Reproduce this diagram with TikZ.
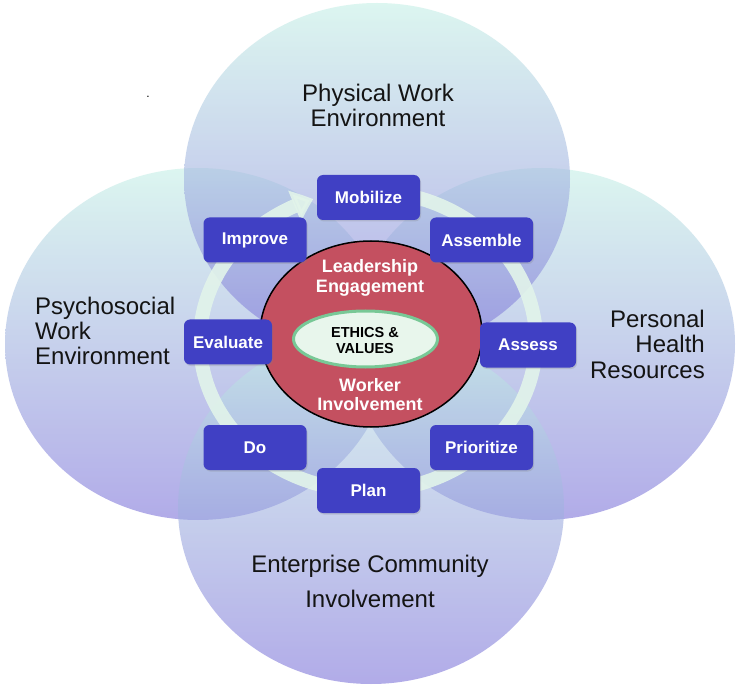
\documentclass[tikz,border=0pt]{standalone}
\usepackage{fontspec}
\setmainfont{Liberation Sans}
\usetikzlibrary{arrows.meta,bending,shadows,shapes.geometric}

\definecolor{circtop}{RGB}{197,240,230}
\definecolor{circmid}{RGB}{156,190,228}
\definecolor{circbot}{RGB}{126,116,218}
\definecolor{boxblue}{RGB}{64,64,196}
\definecolor{redcore}{RGB}{196,80,96}
\definecolor{ringc}{RGB}{226,244,234}
\definecolor{ethicsfill}{RGB}{232,246,236}
\definecolor{ethicsline}{RGB}{120,200,150}
\definecolor{labeltext}{RGB}{20,20,20}

\begin{document}
\begin{tikzpicture}[x=1pt,y=-1pt,
  bigcirc/.style={fill opacity=0.6, top color=circtop, middle color=circmid, bottom color=circbot},
  stepbox/.style={fill=boxblue, rounded corners=6pt, minimum height=45pt, minimum width=103pt,
    inner sep=0pt, text=white, font=\bfseries\fontsize{17}{20}\selectfont,
    drop shadow={opacity=0.25, shadow xshift=1pt, shadow yshift=-1.5pt}},
  outerlabel/.style={text=labeltext, font=\fontsize{24}{25.5}\selectfont, inner sep=0pt},
  corelabel/.style={text=white, font=\bfseries\fontsize{18}{20}\selectfont, inner sep=0pt, align=center}
]
\useasboundingbox (0,0) rectangle (737,687);
\fill[white] (0,0) rectangle (737,687);

% four overlapping domains
\shade[bigcirc] (198,344) ellipse [x radius=193, y radius=176];
\shade[bigcirc] (542,344) ellipse [x radius=193, y radius=176];
\shade[bigcirc] (377,179) ellipse [x radius=193, y radius=176];
\shade[bigcirc] (371,508) ellipse [x radius=193, y radius=176];

% cycle ring with arrow
\coordinate (ctr) at (368,341);
\draw[ringc, opacity=0.9, line width=14pt, -{Triangle[length=20pt,width=32pt,bend]}]
  (ctr) ++(280:168 and 150) arc[start angle=280, end angle=611, x radius=168, y radius=150];

% core
\node[draw=black, line width=1.5pt, fill=redcore, ellipse, minimum width=222pt, minimum height=186pt, inner sep=0pt]
  (core) at (371,334) {};
\node[draw=ethicsline, line width=3pt, fill=ethicsfill, ellipse, minimum width=144pt, minimum height=56pt, inner sep=0pt]
  (ethics) at (365.5,339) {};
\node[anchor=base, inner sep=0pt, align=center, font=\bfseries\fontsize{14.5}{16}\selectfont] (ethicstext) at (365,353) {ETHICS \&\\VALUES};
\node[corelabel, anchor=base] (lead) at (370,293) {Leadership\\Engagement};
\node[corelabel, anchor=base, font=\bfseries\fontsize{18}{19}\selectfont] (worker) at (370,410) {Worker\\Involvement};

% steps
\node[stepbox] (mobilize) at (368.5,197.5) {Mobilize};
\node[stepbox] (assemble) at (481.5,240) {Assemble};
\node[stepbox, minimum width=96pt] (assess) at (528,345) {Assess};
\node[stepbox] (prioritize) at (481.5,447.5) {Prioritize};
\node[stepbox] (plan) at (368.5,490.5) {Plan};
\node[stepbox] (do) at (255,447.5) {Do};
\node[stepbox, minimum width=88pt] (evaluate) at (228,342) {Evaluate};
\node[stepbox] (improve) at (255,240) {Improve};

% domain labels
\node[outerlabel, anchor=base, align=center] (physical) at (378,127) {Physical Work\\Environment};
\node[outerlabel, anchor=base west, align=left] (psycho) at (35,365) {Psychosocial\\Work\\Environment};
\node[outerlabel, anchor=base east, align=right] (personal) at (705,378) {Personal\\Health\\Resources};
\node[outerlabel, anchor=base, align=center, font=\fontsize{24}{35}\selectfont] (enterprise) at (370,607) {Enterprise Community\\Involvement};

\node[inner sep=0pt, font=\fontsize{12}{12}\selectfont] (speck) at (148,97) {.};
\end{tikzpicture}
\end{document}
